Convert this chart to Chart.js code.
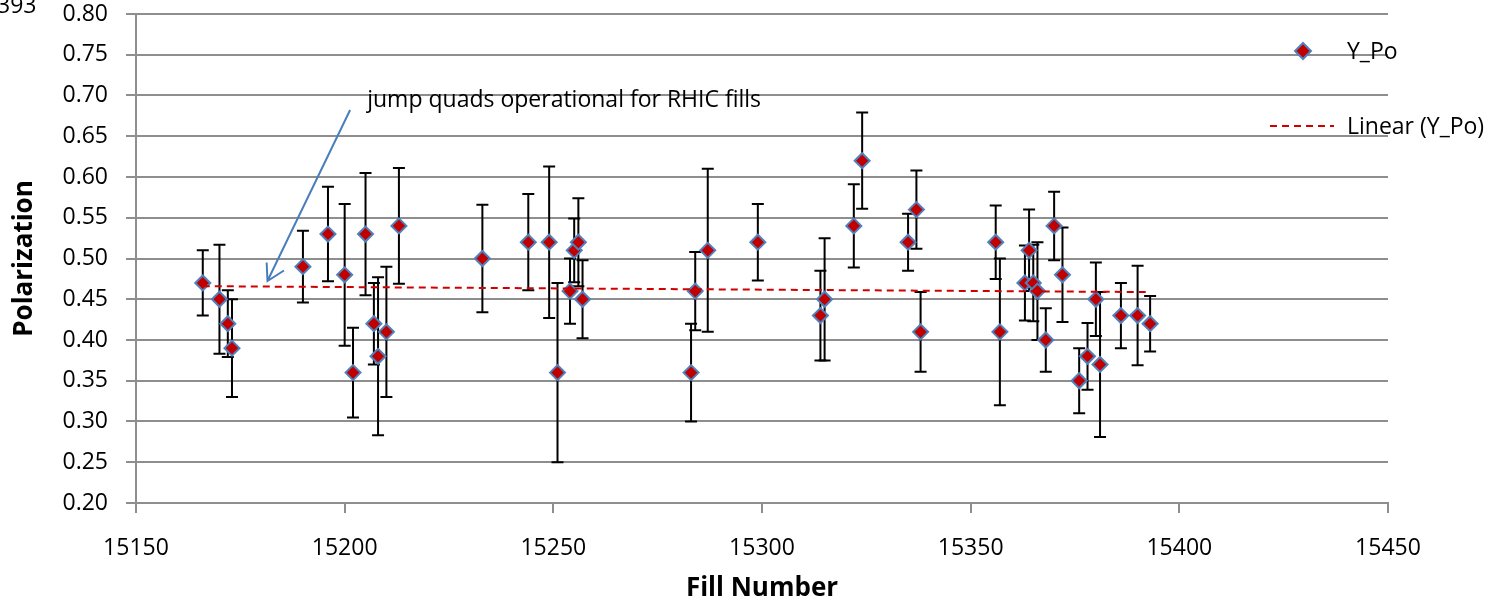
<!DOCTYPE html>
<html>
<head>
<meta charset="utf-8">
<script src="https://cdn.jsdelivr.net/npm/chart.js@4.4.1/dist/chart.umd.min.js"></script>
<style>
  html, body { margin: 0; padding: 0; background: #ffffff; }
  #wrap { width: 1497px; height: 604px; position: relative; }
</style>
</head>
<body>
<div id="wrap"><canvas id="graficoPol"></canvas></div>
<script>
// fills and measured yellow polarization with errors
const fills = [15166, 15170, 15172, 15173, 15190, 15196, 15200, 15202, 15205, 15207,
               15208, 15210, 15213, 15233, 15244, 15249, 15251, 15254, 15255, 15256,
               15257, 15283, 15284, 15287, 15299, 15314, 15315, 15322, 15324, 15335,
               15337, 15338, 15356, 15357, 15363, 15364, 15365, 15366, 15368, 15370,
               15372, 15376, 15378, 15380, 15381, 15386, 15390, 15393];
const polY = [0.47, 0.45, 0.42, 0.39, 0.49, 0.53, 0.48, 0.36, 0.53, 0.42,
              0.38, 0.41, 0.54, 0.50, 0.52, 0.52, 0.36, 0.46, 0.51, 0.52,
              0.45, 0.36, 0.46, 0.51, 0.52, 0.43, 0.45, 0.54, 0.62, 0.52,
              0.56, 0.41, 0.52, 0.41, 0.47, 0.51, 0.47, 0.46, 0.40, 0.54,
              0.48, 0.35, 0.38, 0.45, 0.37, 0.43, 0.43, 0.42];
const polErr = [0.040, 0.067, 0.041, 0.060, 0.044, 0.058, 0.087, 0.055, 0.075, 0.050,
                0.097, 0.080, 0.071, 0.066, 0.059, 0.093, 0.110, 0.040, 0.039, 0.054,
                0.048, 0.060, 0.048, 0.100, 0.047, 0.055, 0.075, 0.051, 0.059, 0.035,
                0.048, 0.049, 0.045, 0.090, 0.046, 0.050, 0.047, 0.060, 0.039, 0.042,
                0.058, 0.040, 0.041, 0.045, 0.089, 0.040, 0.061, 0.034];

const serieNombre = 'Y_Po';
const tendenciaNombre = 'Linear (Y_Po)';
const nota = 'jump quads operational for RHIC fills';

// least squares line for the trend
const n = fills.length;
let sx = 0, sy = 0, sxx = 0, sxy = 0;
for (let i = 0; i < n; i++) {
    sx += fills[i]; sy += polY[i];
    sxx += fills[i] * fills[i]; sxy += fills[i] * polY[i];
}
const pend = (n * sxy - sx * sy) / (n * sxx - sx * sx);
const orig = (sy - pend * sx) / n;
const fMin = Math.min(...fills), fMax = Math.max(...fills);

const rojo = '#C00000';
const azul = '#4F81BD';
const gris = '#8E8E8E';

Chart.defaults.font.family = "'Open Sans', sans-serif";
Chart.defaults.font.size = 23;
Chart.defaults.color = '#000000';

// vertical error bars, drawn under the markers
const barrasError = {
    id: 'barrasError',
    beforeDatasetsDraw(chart) {
        const {ctx, scales: {x, y}} = chart;
        ctx.save();
        ctx.strokeStyle = '#000000';
        ctx.lineWidth = 2;
        for (let i = 0; i < fills.length; i++) {
            const px = x.getPixelForValue(fills[i]);
            const top = y.getPixelForValue(polY[i] + polErr[i]);
            const bot = y.getPixelForValue(polY[i] - polErr[i]);
            ctx.beginPath();
            ctx.moveTo(px, top); ctx.lineTo(px, bot);
            ctx.moveTo(px - 6, top); ctx.lineTo(px + 6, top);
            ctx.moveTo(px - 6, bot); ctx.lineTo(px + 6, bot);
            ctx.stroke();
        }
        ctx.restore();
    }
};

// legend inside the plot, note with arrow, stray label at the corner
const extras = {
    id: 'extras',
    afterDraw(chart) {
        const {ctx, scales: {x, y}} = chart;
        ctx.save();
        ctx.font = "23px 'Open Sans', sans-serif";
        ctx.fillStyle = '#000000';
        ctx.textBaseline = 'middle';
        ctx.textAlign = 'left';

        // legend
        ctx.beginPath();
        ctx.moveTo(1303, 43); ctx.lineTo(1311, 51); ctx.lineTo(1303, 59); ctx.lineTo(1295, 51);
        ctx.closePath();
        ctx.fillStyle = rojo; ctx.fill();
        ctx.strokeStyle = azul; ctx.lineWidth = 2; ctx.stroke();
        ctx.fillStyle = '#000000';
        ctx.fillText(serieNombre, 1347, 52);

        ctx.beginPath();
        ctx.setLineDash([7, 5]);
        ctx.strokeStyle = '#D00000';
        ctx.moveTo(1270, 126); ctx.lineTo(1334, 126);
        ctx.stroke();
        ctx.setLineDash([]);
        ctx.fillText(tendenciaNombre, 1347, 127);

        // note and arrow
        ctx.textBaseline = 'alphabetic';
        ctx.fillText(nota, x.getPixelForValue(15205.4), y.getPixelForValue(0.6858));
        const tx = x.getPixelForValue(15181.5), ty = y.getPixelForValue(0.4724);
        const sxp = x.getPixelForValue(15201.3), syp = y.getPixelForValue(0.6822);
        ctx.strokeStyle = '#4A7EBB';
        ctx.lineWidth = 2;
        ctx.beginPath();
        ctx.moveTo(sxp, syp); ctx.lineTo(tx, ty);
        ctx.moveTo(tx - 0.8, ty - 18.5); ctx.lineTo(tx, ty); ctx.lineTo(tx + 16.5, ty - 10.5);
        ctx.stroke();

        ctx.fillText('393', -3, 13);
        ctx.restore();
    }
};

const ctx = document.getElementById('graficoPol').getContext('2d');

new Chart(ctx, {
    type: 'scatter',
    data: {
        datasets: [{
            label: serieNombre,
            data: fills.map((f, i) => ({x: f, y: polY[i]})),
            pointStyle: 'rectRot',
            pointRadius: 7.5,
            pointHoverRadius: 7.5,
            backgroundColor: rojo,
            borderColor: azul,
            borderWidth: 2,
            order: 1
        }, {
            label: tendenciaNombre,
            type: 'line',
            data: [{x: fMin, y: orig + pend * fMin}, {x: fMax, y: orig + pend * fMax}],
            borderColor: '#D00000',
            borderWidth: 2,
            borderDash: [7, 5],
            pointRadius: 0,
            fill: false,
            order: 0
        }]
    },
    options: {
        responsive: true,
        maintainAspectRatio: false,
        animation: false,
        layout: {
            padding: {top: 14, right: 109, left: 0, bottom: 0}
        },
        plugins: {
            legend: { display: false },
            tooltip: { enabled: false }
        },
        scales: {
            x: {
                type: 'linear',
                min: 15150,
                max: 15450,
                afterFit(scale) {
                    scale.height = 101;
                    scale.paddingLeft = 0;
                    scale.paddingRight = 0;
                },
                ticks: {
                    stepSize: 50,
                    padding: 22,
                    maxRotation: 0,
                    callback: v => String(v)
                },
                grid: {
                    drawOnChartArea: false,
                    drawTicks: true,
                    tickLength: 10,
                    color: gris,
                    lineWidth: 2
                },
                border: { color: gris, width: 2 },
                title: {
                    display: true,
                    text: 'Fill Number',
                    font: { size: 26, weight: 'bold' },
                    padding: { top: 0, bottom: 0 }
                }
            },
            y: {
                min: 0.2,
                max: 0.8,
                afterFit(scale) {
                    scale.width = 136;
                    scale.paddingTop = 0;
                    scale.paddingBottom = 0;
                },
                ticks: {
                    stepSize: 0.05,
                    padding: 18,
                    callback: v => v.toFixed(2)
                },
                grid: {
                    drawTicks: true,
                    tickLength: 10,
                    color: gris,
                    lineWidth: 2
                },
                border: { color: gris, width: 2 },
                title: {
                    display: true,
                    text: 'Polarization',
                    font: { size: 26, weight: 'bold' },
                    padding: { top: 9, bottom: 0 }
                }
            }
        }
    },
    plugins: [barrasError, extras]
});
</script>
</body>
</html>
